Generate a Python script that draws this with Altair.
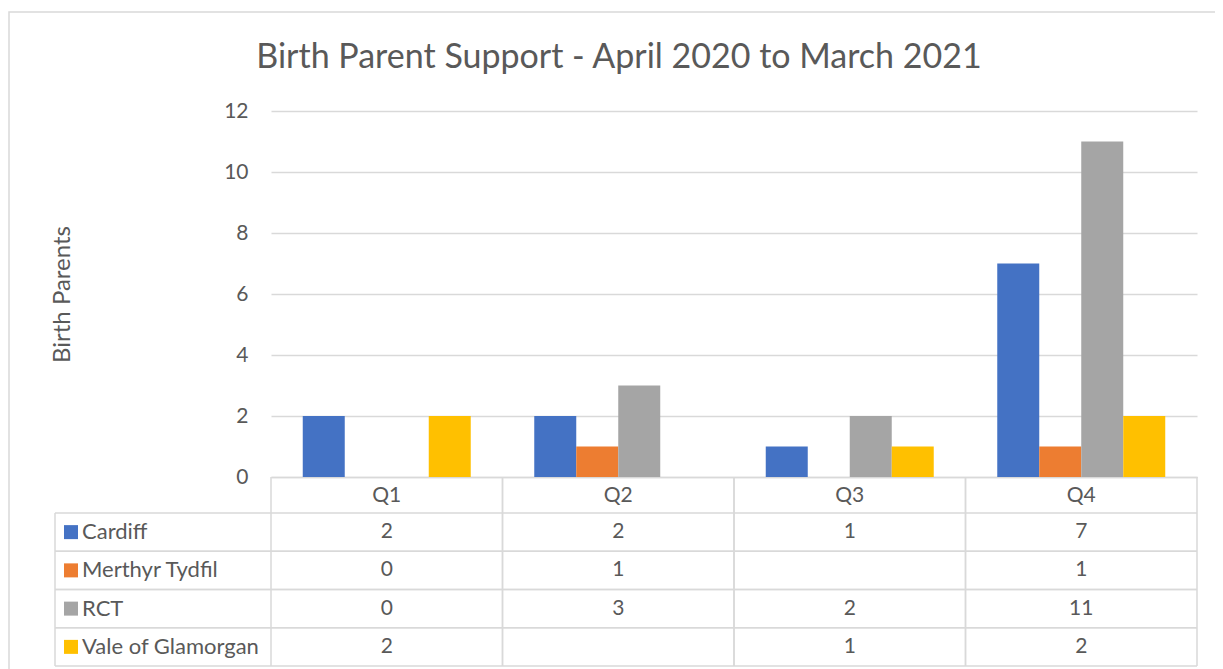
import altair as alt

# ---- data ----
quarters = ["Q1", "Q2", "Q3", "Q4"]
series = ["Cardiff", "Merthyr Tydfil", "RCT", "Vale of Glamorgan"]
cardiff = [2, 2, 1, 7]
merthyr = [0, 1, None, 1]
rct = [0, 3, 2, 11]
vale = [2, None, 1, 2]
colors = ["#4472C4", "#ED7D31", "#A5A5A5", "#FFC000"]
title_text = "Birth Parent Support - April 2020 to March 2021"
y_title = "Birth Parents"
y_ticks = [0, 2, 4, 6, 8, 10, 12]

rows = []
for s, vals in zip(series, [cardiff, merthyr, rct, vale]):
    for q, v in zip(quarters, vals):
        rows.append({"Quarter": q, "Series": s, "Value": v,
                     "Label": "" if v is None else str(v)})

data = alt.Data(values=rows)
legend_data = alt.Data(values=[{"Series": s} for s in series])
quarter_data = alt.Data(values=[{"Quarter": q} for q in quarters])
title_data = alt.Data(values=[{"t": title_text}])

# ---- layout / style ----
W, H = 926, 366
PAD_L, PAD_T, PAD_R, PAD_B = 263, 103, 18, 192
FONT = "Lato"
TXT = "#595959"
LINE = "#D9D9D9"
TABLE_TOP = H + 36
TABLE_BOTTOM = H + 189
LEFT_COL = -216

xscale = alt.Scale(domain=quarters, paddingInner=0, paddingOuter=0)
row_scale = alt.Scale(domain=series, range=[TABLE_TOP, TABLE_BOTTOM],
                      paddingInner=0, paddingOuter=0)
color_scale = alt.Scale(domain=series, range=colors)

bars = alt.Chart(data).mark_bar().encode(
    x=alt.X("Quarter:N", scale=xscale,
            axis=alt.Axis(title=None, ticks=False, domain=True, domainColor=LINE,
                          domainWidth=1.5, labelAngle=0, labelFont=FONT,
                          labelFontSize=21, labelColor=TXT, labelPadding=18,
                          labelBaseline="middle")),
    xOffset=alt.XOffset("Series:N",
                        scale=alt.Scale(domain=series, paddingInner=0, paddingOuter=0.756)),
    y=alt.Y("Value:Q", scale=alt.Scale(domain=[0, 12]),
            axis=alt.Axis(values=y_ticks, grid=True, gridColor=LINE, gridWidth=1.5,
                          domain=False, ticks=False, labelPadding=23,
                          labelFont=FONT, labelFontSize=21, labelColor=TXT,
                          title=y_title, titleFont=FONT, titleFontSize=24,
                          titleFontWeight="normal", titleColor=TXT,
                          titleX=-209, titleY=183, titleAngle=270,
                          titleBaseline="middle", titleAlign="center")),
    color=alt.Color("Series:N", scale=color_scale, legend=None),
)

cells = alt.Chart(data).mark_text(font=FONT, fontSize=21, color=TXT,
                                  align="center", baseline="middle").encode(
    x=alt.X("Quarter:N", scale=xscale),
    y=alt.Y("Series:N", scale=row_scale, axis=None),
    text="Label:N",
)

hlines_top = alt.Chart(legend_data).mark_rule(color=LINE, strokeWidth=1.5).encode(
    y=alt.Y("Series:N", scale=row_scale, axis=None, bandPosition=0),
    x=alt.value(LEFT_COL), x2=alt.value(W),
)
hlines_bot = alt.Chart(legend_data).mark_rule(color=LINE, strokeWidth=1.5).encode(
    y=alt.Y("Series:N", scale=row_scale, axis=None, bandPosition=1),
    x=alt.value(LEFT_COL), x2=alt.value(W),
)
vlines_l = alt.Chart(quarter_data).mark_rule(color=LINE, strokeWidth=1.5).encode(
    x=alt.X("Quarter:N", scale=xscale, bandPosition=0),
    y=alt.value(H), y2=alt.value(TABLE_BOTTOM),
)
vlines_r = alt.Chart(quarter_data).mark_rule(color=LINE, strokeWidth=1.5).encode(
    x=alt.X("Quarter:N", scale=xscale, bandPosition=1),
    y=alt.value(H), y2=alt.value(TABLE_BOTTOM),
)
left_col = alt.Chart(title_data).mark_rule(color=LINE, strokeWidth=1.5).encode(
    x=alt.value(LEFT_COL), y=alt.value(TABLE_TOP), y2=alt.value(TABLE_BOTTOM),
)

swatches = alt.Chart(legend_data).mark_square(size=196, opacity=1).encode(
    x=alt.value(-200),
    y=alt.Y("Series:N", scale=row_scale, axis=None),
    color=alt.Color("Series:N", scale=color_scale, legend=None),
)
legend_text = alt.Chart(legend_data).mark_text(font=FONT, fontSize=22, color=TXT,
                                               align="left", baseline="middle").encode(
    x=alt.value(-189),
    y=alt.Y("Series:N", scale=row_scale, axis=None),
    text="Series:N",
)

title = alt.Chart(title_data).mark_text(font=FONT, fontSize=34, color=TXT,
                                        align="center", baseline="alphabetic").encode(
    x=alt.value(348), y=alt.value(-43), text="t:N",
)

border = alt.Chart(title_data).mark_rect(fillOpacity=0, stroke=LINE, strokeWidth=1.5).encode(
    x=alt.value(-262), x2=alt.value(1000), y=alt.value(-99), y2=alt.value(700),
)

chart = alt.layer(
    border, bars, hlines_top, hlines_bot, vlines_l, vlines_r, left_col,
    cells, swatches, legend_text, title,
).resolve_scale(y="independent").properties(
    width=W, height=H,
    padding={"left": PAD_L, "top": PAD_T, "right": PAD_R, "bottom": PAD_B},
    autosize=alt.AutoSizeParams(type="none"),
    background="white",
).configure_view(stroke=None)

chart.save("out.html", embed_options={"renderer": "svg", "actions": False})
